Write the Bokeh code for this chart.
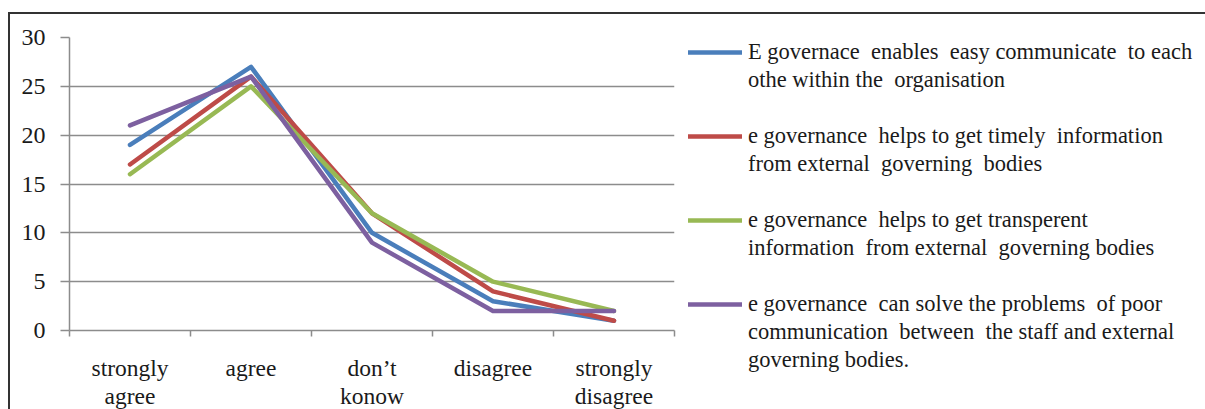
from bokeh.plotting import figure
from bokeh.models import Range1d, FixedTicker, CustomJSTickFormatter, Legend, LegendItem
from bokeh.embed import file_html
from bokeh.resources import INLINE

categories = ["strongly\nagree", "agree", "don\u2019t\nkonow", "disagree", "strongly\ndisagree"]
series_labels = [
    "E governace  enables  easy communicate  to each\nothe within the  organisation",
    "e governance  helps to get timely  information\nfrom external  governing  bodies",
    "e governance  helps to get transperent\ninformation  from external  governing bodies",
    "e governance  can solve the problems  of poor\ncommunication  between  the staff and external\ngoverning bodies.",
]
blue_vals = [19, 27, 10, 3, 1]
red_vals = [17, 26, 12, 4, 1]
green_vals = [16, 25, 12, 5, 2]
purple_vals = [21, 26, 9, 2, 2]
series_values = [blue_vals, red_vals, green_vals, purple_vals]
colors = ["#4A7EBB", "#BE4B48", "#98B954", "#7D60A0"]
y_ticks = [0, 5, 10, 15, 20, 25, 30]

FONT = "Liberation Serif"
n = len(categories)
xs = [i + 0.5 for i in range(n)]
FRAME_H = 293
ROW_H = 28

p = figure(
    frame_width=605, frame_height=FRAME_H,
    min_border_left=59, min_border_top=23, min_border_bottom=71, min_border_right=523,
    x_range=Range1d(0, n), y_range=Range1d(y_ticks[0], y_ticks[-1]),
    output_backend="svg", toolbar_location=None,
)
p.styles = {"border-top": "2px solid #333333", "border-left": "2px solid #333333",
            "margin-top": "12px", "margin-left": "8px"}
p.outline_line_color = None
p.background_fill_color = "white"

# x axis: labels at category centers, ticks at category boundaries
p.xaxis.ticker = FixedTicker(ticks=xs, minor_ticks=list(range(n + 1)))
p.xaxis.formatter = CustomJSTickFormatter(args=dict(labels=categories),
                                          code="return labels[Math.floor(tick)];")
p.xaxis.major_tick_out = 0
p.xaxis.major_tick_in = 0
p.xaxis.minor_tick_out = 6
p.xaxis.minor_tick_in = 0
p.xaxis.minor_tick_line_color = "#8c8c8c"
p.xaxis.minor_tick_line_width = 1.5
p.xaxis.axis_line_color = "#8c8c8c"
p.xaxis.axis_line_width = 1.5
p.xaxis.major_label_standoff = 18
p.xaxis.major_label_text_font_size = "23.5px"
p.xaxis.major_label_text_line_height = 1.1
p.xgrid.visible = False

p.yaxis.ticker = FixedTicker(ticks=y_ticks)
p.yaxis.major_tick_out = 9
p.yaxis.major_tick_in = 0
p.yaxis.minor_tick_line_color = None
p.yaxis.major_tick_line_color = "#8c8c8c"
p.yaxis.major_tick_line_width = 1.5
p.yaxis.axis_line_color = "#8c8c8c"
p.yaxis.axis_line_width = 1.5
p.yaxis.major_label_standoff = 15
p.yaxis.major_label_text_font_size = "24px"
p.ygrid.ticker = FixedTicker(ticks=y_ticks)
p.ygrid.grid_line_color = "#8c8c8c"
p.ygrid.grid_line_width = 1.5

for ax in (p.xaxis, p.yaxis):
    ax.major_label_text_font = FONT
    ax.major_label_text_color = "#1a1a1a"

items = []
for k, (label, vals, c) in enumerate(zip(series_labels, series_values, colors)):
    r = p.line(xs, vals, line_color=c, line_width=4.5, line_join="round", line_cap="round")
    lines = label.split("\n")
    if k > 0:
        items.append(LegendItem(label=" ", renderers=[]))
    items.append(LegendItem(label=lines[0], renderers=[r]))
    for extra in lines[1:]:
        items.append(LegendItem(label=extra, renderers=[]))

legend_h = ROW_H * len(items)
legend = Legend(items=items, orientation="vertical",
                location=(14, FRAME_H - 1 - legend_h))
legend.border_line_color = None
legend.background_fill_alpha = 0
legend.margin = 0
legend.padding = 0
legend.glyph_width = 54
legend.glyph_height = ROW_H
legend.label_height = ROW_H
legend.label_standoff = 6
legend.spacing = 0
legend.label_text_font = FONT
legend.label_text_font_size = "22.5px"
legend.label_text_color = "#1a1a1a"
legend.label_text_line_height = 1.2
p.add_layout(legend, "right")

open("out.html", "w").write(file_html(p, INLINE))
